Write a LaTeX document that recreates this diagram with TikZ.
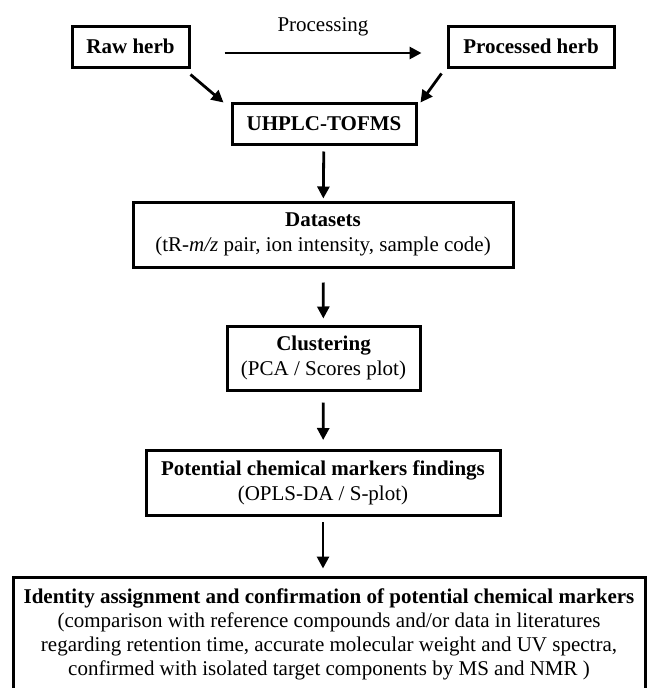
\documentclass[tikz,border=0pt]{standalone}
\usepackage{fontspec}
\setmainfont{Liberation Serif}
\usetikzlibrary{arrows.meta}
\begin{document}
\begin{tikzpicture}[x=1pt,y=-1pt,
  box/.style={draw,line width=3pt,inner sep=0pt,align=center,font=\fontsize{21}{25}\selectfont},
  arr/.style={line width=2.8pt,-{Triangle[length=12pt,width=12pt]}}]
\useasboundingbox (0,0) rectangle (654,688);
\node[box,minimum width=117pt,minimum height=41pt] (raw) at (130.5,46.5) {\textbf{Raw herb}};
\node[box,minimum width=166pt,minimum height=41pt] (proc) at (531,46.5) {\textbf{Processed herb}};
\node[box,minimum width=184pt,minimum height=41pt] (uhplc) at (324,123.5) {\textbf{UHPLC-TOFMS}};
\node[box,minimum width=380pt,minimum height=65pt] (data) at (323,234.5) {\textbf{Datasets}\\(tR-\textit{m/z} pair, ion intensity, sample code)};
\node[box,minimum width=193pt,minimum height=64pt] (clus) at (323.5,358) {\textbf{Clustering}\\(PCA / Scores plot)};
\node[box,minimum width=354pt,minimum height=65pt] (pot) at (323,483) {\textbf{Potential chemical markers findings}\\(OPLS-DA / S-plot)};
\node[box,minimum width=632pt,minimum height=114pt,font=\fontsize{21}{24}\selectfont] (ident) at (329,634) {\textbf{Identity assignment and confirmation of potential chemical markers}\\(comparison with reference compounds and/or data in literatures\\regarding retention time, accurate molecular weight and UV spectra,\\confirmed with isolated target components by MS and NMR )};
\draw[arr] ([xshift=34pt,yshift=-6.5pt]raw.east) -- node[above=12pt,font=\fontsize{21}{25}\selectfont] (plab) {Processing} ([xshift=-25pt,yshift=-6.5pt]proc.west);
\draw[arr] ([yshift=-6pt]raw.south east) -- ([xshift=-7pt,yshift=-1pt]uhplc.north west);
\draw[arr] ([xshift=-5pt,yshift=-5pt]proc.south west) -- ([xshift=3pt,yshift=-1pt]uhplc.north east);
\draw[arr,shorten <=6pt,shorten >=2pt] (uhplc) -- (data);
\draw[arr,shorten <=14pt,shorten >=6pt] (data) -- (clus);
\draw[arr,shorten <=11pt,shorten >=9pt] (clus) -- (pot);
\draw[arr,shorten <=5pt,shorten >=7pt] (pot.south) -- (pot.south|-ident.north);
\end{tikzpicture}
\end{document}
